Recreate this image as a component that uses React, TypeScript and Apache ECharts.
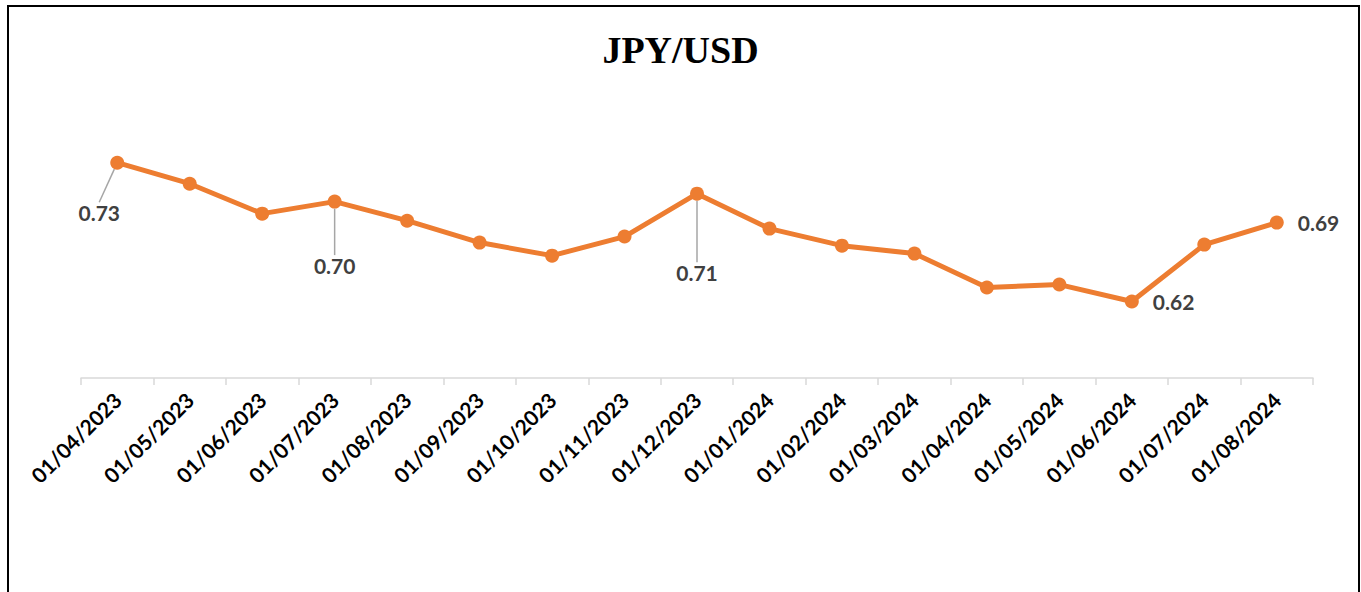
import React, { useEffect, useRef } from "react";
import * as echarts from "echarts";

const categories = [
  "01/04/2023", "01/05/2023", "01/06/2023", "01/07/2023", "01/08/2023", "01/09/2023",
  "01/10/2023", "01/11/2023", "01/12/2023", "01/01/2024", "01/02/2024", "01/03/2024",
  "01/04/2024", "01/05/2024", "01/06/2024", "01/07/2024", "01/08/2024",
];
const values = [
  0.7322, 0.7158, 0.6924, 0.7018, 0.6869, 0.6698, 0.6596, 0.6745, 0.708,
  0.6807, 0.6674, 0.6612, 0.6347, 0.637, 0.6238, 0.6682, 0.6854,
];
// which points carry a data label and where it sits
const labelled = [0, 3, 8, 14, 16];
const labelPlacement: Record<number, string> = { 0: "leftBelow", 3: "below", 8: "below", 14: "right", 16: "right" };

export default function App() {
  const ref = useRef<HTMLDivElement>(null);
  useEffect(() => {
    if (!ref.current) return;
    const chart = echarts.init(ref.current, null, { renderer: "svg" });
    const labelFont = { fontFamily: "Lato, 'Open Sans', sans-serif", fontWeight: "bold" as const, fontSize: 21, color: "#404040" };
    const data = values.map((v, i) => {
      if (!labelled.includes(i)) return { value: v };
      const p = labelPlacement[i];
      return {
        value: v,
        label: {
          show: true,
          position: p === "right" ? "right" : "inside",
          distance: p === "right" ? 14 : 5,
          formatter: (x: any) => Number(x.value).toFixed(2),
          ...labelFont,
        },
        labelLine: { show: p !== "right", lineStyle: { color: "#a6a6a6", width: 1.5 } },
      };
    });
    chart.setOption({
      animation: false,
      backgroundColor: "#ffffff",
      title: {
        text: "JPY/USD",
        left: "center",
        top: 26,
        textStyle: { fontFamily: "'Liberation Serif', 'Times New Roman', serif", fontWeight: "bold", fontSize: 38, color: "#000" },
      },
      graphic: [
        {
          type: "rect",
          shape: { x: 8, y: 6, width: 1351, height: 700 },
          style: { fill: "none", stroke: "#000", lineWidth: 2 },
          silent: true,
        },
      ],
      grid: { left: 81, right: 48, top: 122, bottom: 214 },
      xAxis: {
        type: "category",
        data: categories,
        boundaryGap: true,
        axisLine: { lineStyle: { color: "#d9d9d9", width: 1.5 } },
        axisTick: { show: true, length: 7, lineStyle: { color: "#d9d9d9", width: 1.5 } },
        axisLabel: {
          rotate: 45,
          interval: 0,
          margin: 18,
          color: "#000",
          fontFamily: "Lato, 'Open Sans', sans-serif",
          fontWeight: "bold",
          fontSize: 21,
        },
      },
      yAxis: {
        type: "value",
        min: 0.564,
        max: 0.764,
        show: false,
        splitLine: { show: false },
      },
      series: [
        {
          type: "line",
          data,
          symbol: "circle",
          symbolSize: 14,
          lineStyle: { color: "#ED7D31", width: 5 },
          itemStyle: { color: "#ED7D31" },
          label: { show: false },
          labelLayout: (params: any) => {
            const i = params.dataIndex;
            const p = labelPlacement[i];
            if (p === "leftBelow") return { dx: -18, dy: 50 };
            if (i === 3) return { dy: 64 };
            if (i === 8) return { dy: 79 };
            return {};
          },
        },
      ],
    });
    return () => chart.dispose();
  }, []);
  return <div ref={ref} style={{ position: "fixed", left: 0, top: 0, width: 1361, height: 592 }} />;
}
